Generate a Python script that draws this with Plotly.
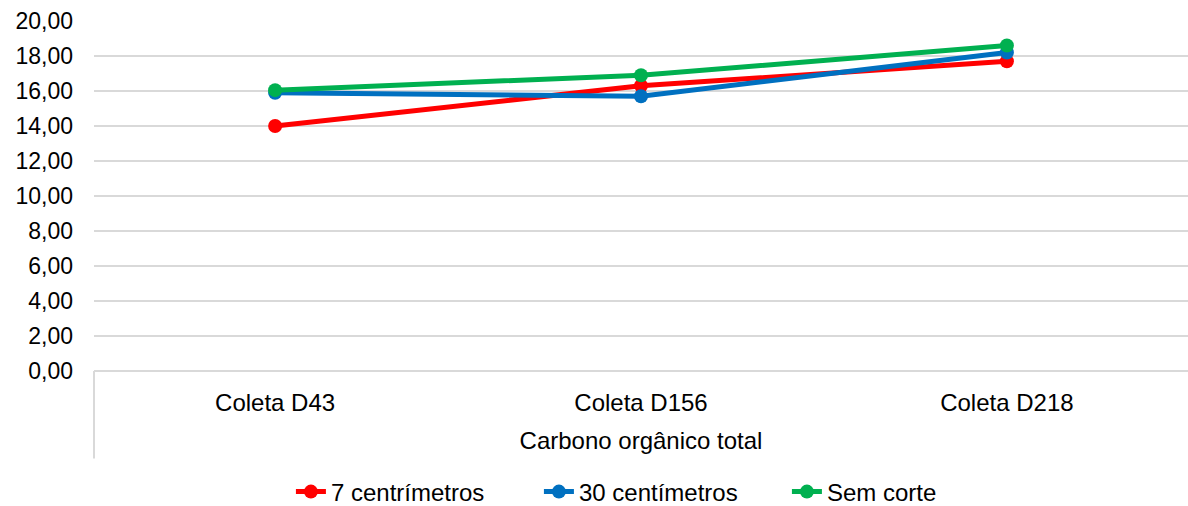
import plotly.graph_objects as go

# Carbono orgânico total por coleta e altura de corte
coletas = ["Coleta D43", "Coleta D156", "Coleta D218"]
cm7 = [14.0, 16.3, 17.7]
cm30 = [15.9, 15.7, 18.2]
sem_corte = [16.05, 16.9, 18.6]

series = [
    ("7 centrímetros", cm7, "#ff0000"),
    ("30 centímetros", cm30, "#0070c0"),
    ("Sem corte", sem_corte, "#00b050"),
]

fig = go.Figure()
for name, vals, color in series:
    fig.add_trace(go.Scatter(
        x=coletas, y=vals, name=name, mode="lines+markers",
        line=dict(color=color, width=5),
        marker=dict(color=color, size=14),
    ))

font = "Liberation Sans, Arial, sans-serif"
fig.update_layout(
    width=1188, height=506,
    margin=dict(l=94, r=0, t=21, b=135, autoexpand=False),
    paper_bgcolor="white", plot_bgcolor="white",
    separators=",.",
    font=dict(family=font, size=24, color="#000000"),
    showlegend=True,
    legend=dict(orientation="h", x=0.180, xanchor="left", y=-0.3457, yanchor="middle",
                font=dict(size=24), entrywidth=203, entrywidthmode="pixels",
                traceorder="normal"),
    xaxis=dict(
        type="category", range=[-0.495, 2.495],
        showgrid=False, zeroline=False,
        showline=False, ticks="", ticklabelstandoff=15,
        tickfont=dict(size=24),
        title=dict(text="Carbono orgânico total", font=dict(size=24), standoff=17),
    ),
    yaxis=dict(
        range=[0, 20], dtick=2, tickformat=".2f",
        showgrid=True, gridcolor="#d9d9d9", gridwidth=2,
        zeroline=True, zerolinecolor="#d9d9d9", zerolinewidth=2,
        showline=False, ticks="", ticklabelstandoff=20,
        tickfont=dict(size=23),
    ),
)

# left divider of the category axis, below the baseline
fig.add_shape(type="line", xref="paper", yref="paper",
              x0=0, x1=0, y0=0, y1=-0.25,
              line=dict(color="#d9d9d9", width=2))

fig.write_html("out.html")
